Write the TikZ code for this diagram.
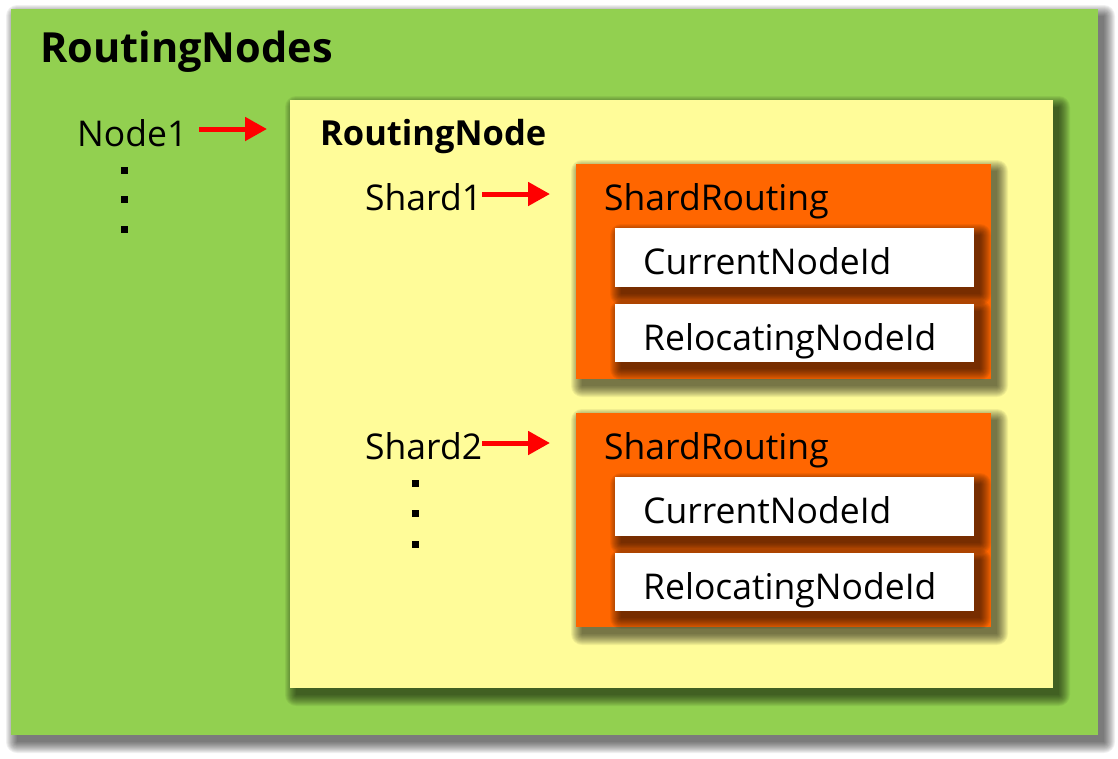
\documentclass[tikz,border=0pt]{standalone}
\usepackage{fontspec}
\setmainfont{Open Sans}
\usetikzlibrary{arrows.meta}
\definecolor{grn}{HTML}{92D050}
\definecolor{ylw}{HTML}{FFFC99}
\definecolor{org}{HTML}{FF6600}
\newcommand{\softshadow}[1]{%
  \foreach \k in {11,10,...,0}{%
    \fill[black, opacity=0.06, rounded corners=\k pt]
      ([shift={(6pt-\k pt,-7pt+\k pt)}]#1.north west) rectangle ([shift={(6pt+\k pt,-7pt-\k pt)}]#1.south east);
  }%
}
\tikzset{
  box/.style={anchor=north west, inner sep=0pt, outer sep=0pt},
  lbl/.style={anchor=base west, inner sep=0pt, font=\fontsize{35.5}{40}\selectfont},
  bold/.style={anchor=base west, inner sep=0pt, font=\fontsize{34}{40}\selectfont\bfseries},
  dotsq/.style={fill=black, inner sep=0pt, minimum size=7pt},
  redarrow/.style={draw=red, line width=5pt, -{Triangle[length=22pt,width=23pt]}}
}
\begin{document}
\begin{tikzpicture}[x=1pt,y=-1pt]
\useasboundingbox (0,0) rectangle (1118,758);
\path node[box, minimum width=1087pt, minimum height=726pt] (green) at (11,9) {};
\softshadow{green}
\fill[grn] (green.north west) rectangle (green.south east);
\path node[box, minimum width=763pt, minimum height=588pt] (yellow) at (290,100) {};
\softshadow{yellow}
\fill[ylw] (yellow.north west) rectangle (yellow.south east);
\path node[box, minimum width=415pt, minimum height=215pt] (or1) at (576,164) {};
\path node[box, minimum width=415pt, minimum height=214pt] (or2) at (576,413) {};
\softshadow{or1}\softshadow{or2}
\fill[org] (or1.north west) rectangle (or1.south east);
\fill[org] (or2.north west) rectangle (or2.south east);
\path node[box, minimum width=359pt, minimum height=59pt] (w1a) at (615,228) {};
\path node[box, minimum width=359pt, minimum height=58pt] (w1b) at (615,304) {};
\path node[box, minimum width=359pt, minimum height=59pt] (w2a) at (615,477) {};
\path node[box, minimum width=359pt, minimum height=58pt] (w2b) at (615,553) {};
\softshadow{w1a}\softshadow{w1b}\softshadow{w2a}\softshadow{w2b}
\fill[white] (w1a.north west) rectangle (w1a.south east);
\fill[white] (w1b.north west) rectangle (w1b.south east);
\fill[white] (w2a.north west) rectangle (w2a.south east);
\fill[white] (w2b.north west) rectangle (w2b.south east);

\node[bold, font=\fontsize{41.5}{50}\selectfont\bfseries] (t0) at (40,62) {RoutingNodes};
\node[lbl] (n1) at (77,146) {Node1};
\node[bold, font=\fontsize{34.5}{40}\selectfont\bfseries] (t1) at (320,145) {RoutingNode};
\node[lbl] (s1) at (365,210) {Shard1};
\node[lbl] (s2) at (365,459) {Shard2};
\node[lbl] (sr1) at (604,210) {ShardRouting};
\node[lbl] (sr2) at (604,459) {ShardRouting};
\node[lbl] (c1) at (643,274) {CurrentNodeId};
\node[lbl] (r1) at (643,350) {RelocatingNodeId};
\node[lbl] (c2) at (643,523) {CurrentNodeId};
\node[lbl] (r2) at (643,599) {RelocatingNodeId};

\node[dotsq] (d1) at (124,170) {};
\node[dotsq] (d2) at (124,199) {};
\node[dotsq] (d3) at (124,229) {};
\node[dotsq] (d4) at (415,483) {};
\node[dotsq] (d5) at (415,513) {};
\node[dotsq] (d6) at (415,544) {};

\coordinate (a1) at (199,129);
\coordinate (a2) at (482,194);
\coordinate (a3) at (482,443);
\draw[redarrow] (a1) -- ([xshift=-23pt]a1 -| yellow.west);
\draw[redarrow] (a2) -- ([xshift=-26pt]a2 -| or1.west);
\draw[redarrow] (a3) -- ([xshift=-26pt]a3 -| or2.west);
\end{tikzpicture}
\end{document}
